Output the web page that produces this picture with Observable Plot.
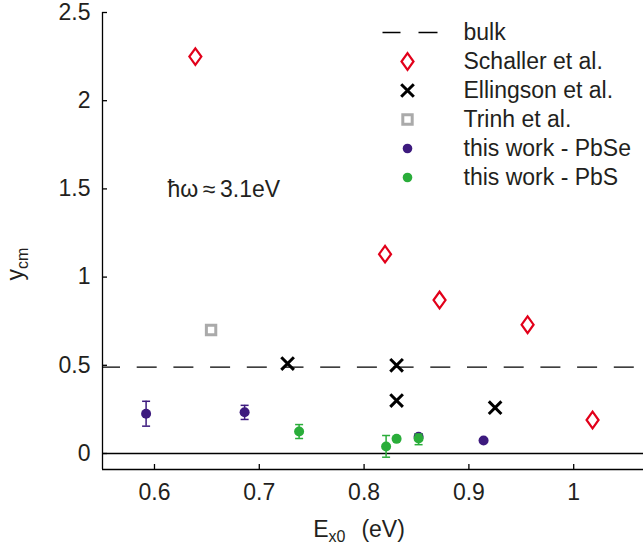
<!DOCTYPE html>
<html><head><meta charset="utf-8">
<script src="https://cdn.jsdelivr.net/npm/d3@7"></script>
<script src="https://cdn.jsdelivr.net/npm/@observablehq/plot@0.6"></script>
<style>
body{margin:0;background:#fff;}
svg{font-family:"Liberation Sans",Arial,sans-serif;}
</style>
</head><body><div id="chart"></div>
<script>
// ---- data ----
const schallerX = [0.639, 0.820, 0.872, 0.956, 1.018];
const schallerY = [2.25, 1.13, 0.87, 0.73, 0.19];
const ellingsonX = [0.727, 0.831, 0.831, 0.925];
const ellingsonY = [0.51, 0.50, 0.30, 0.26];
const trinhX = [0.654];
const trinhY = [0.70];
const pbseX = [0.592, 0.686, 0.852, 0.914];
const pbseY = [0.225, 0.234, 0.095, 0.074];
const pbseLo = [0.155, 0.193, 0.08, null];
const pbseHi = [0.296, 0.273, 0.112, null];
const pbsX = [0.738, 0.821, 0.831, 0.852];
const pbsY = [0.125, 0.04, 0.083, 0.085];
const pbsLo = [0.085, -0.021, null, 0.05];
const pbsHi = [0.164, 0.102, null, 0.11];
const bulkY = 0.49;
const xTicks = [0.6, 0.7, 0.8, 0.9, 1];
const yTicks = [0, 0.5, 1, 1.5, 2, 2.5];
const xDomain = [0.5504, 1.0666];
const yDomain = [-0.0907, 2.5];
const legendLabels = ["bulk", "Schaller et al.", "Ellingson et al.", "Trinh et al.", "this work - PbSe", "this work - PbS"];
const annotation = "ħω\u2009≈\u20093.1eV";

// ---- styles ----
const RED = "#e2001a", PURPLE = "#3d1a7e", GREEN = "#2aad3a", GRAY = "#aaaaaa", INK = "#231f20";
const FS = 23;
const fmt = d => String(d);

const toRows = (xs, ys, lo, hi) => xs.map((x, i) => ({x, y: ys[i], lo: lo ? lo[i] : null, hi: hi ? hi[i] : null}));
const schaller = toRows(schallerX, schallerY);
const ellingson = toRows(ellingsonX, ellingsonY);
const trinh = toRows(trinhX, trinhY);
const pbse = toRows(pbseX, pbseY, pbseLo, pbseHi);
const pbs = toRows(pbsX, pbsY, pbsLo, pbsHi);

const diamondSym = {draw(c) { c.moveTo(0, -8.3); c.lineTo(6, 0); c.lineTo(0, 8.3); c.lineTo(-6, 0); c.closePath(); }};
const timesSym = {draw(c) { c.moveTo(-6.3, -6.3); c.lineTo(6.3, 6.3); c.moveTo(6.3, -6.3); c.lineTo(-6.3, 6.3); }};
const squareSym = {draw(c) { c.moveTo(-4.7, -4.7); c.lineTo(4.7, -4.7); c.lineTo(4.7, 4.7); c.lineTo(-4.7, 4.7); c.closePath(); }};
const capSym = {draw(c) { c.moveTo(-4, 0); c.lineTo(4, 0); }};
const dashSym = {draw(c) { c.moveTo(-25, 0); c.lineTo(-7, 0); c.moveTo(11, 0); c.lineTo(30, 0); }};

const errorMarks = (rows, color) => {
  const e = rows.filter(d => d.lo != null);
  return [
    Plot.ruleX(e, {x: "x", y1: "lo", y2: "hi", stroke: color, strokeWidth: 1.5}),
    Plot.dot(e, {x: "x", y: "lo", symbol: capSym, stroke: color, fill: "none", strokeWidth: 1.5}),
    Plot.dot(e, {x: "x", y: "hi", symbol: capSym, stroke: color, fill: "none", strokeWidth: 1.5})
  ];
};

const legendMarkers = [
  {symbol: dashSym, stroke: "#000", fill: "none", strokeWidth: 1.3},
  {symbol: diamondSym, stroke: RED, fill: "none", strokeWidth: 2.2},
  {symbol: timesSym, stroke: "#000", fill: "none", strokeWidth: 3},
  {symbol: squareSym, stroke: GRAY, fill: "none", strokeWidth: 3},
  {symbol: "circle", r: 4.8, fill: PURPLE, stroke: "none"},
  {symbol: "circle", r: 4.8, fill: GREEN, stroke: "none"}
];
const legendMarks = legendLabels.flatMap((label, i) => [
  Plot.dot([label], {frameAnchor: "top-left", dx: 305, dy: 20 + 29 * i, ...legendMarkers[i]}),
  Plot.text([label], {frameAnchor: "top-left", dx: 361, dy: 20 + 29 * i, text: d => d, textAnchor: "start", lineAnchor: "middle", fontSize: FS, fill: INK})
]);

const plot = Plot.plot({
  width: 643, height: 547,
  marginLeft: 102, marginRight: 0, marginTop: 12, marginBottom: 78,
  x: {domain: xDomain, axis: null},
  y: {domain: yDomain, axis: null},
  style: {fontFamily: "'Liberation Sans', Arial, sans-serif", fontSize: FS + "px", color: INK, background: "white", overflow: "visible"},
  marks: [
    Plot.ruleX([xDomain[0]], {stroke: "#000", strokeWidth: 1.3}),
    Plot.ruleY([yDomain[0]], {stroke: "#000", strokeWidth: 1.3}),
    Plot.axisX(xTicks, {tickSize: -5, tickFormat: () => "", label: null, stroke: "#000", strokeWidth: 1.3}),
    Plot.axisX(xTicks, {tickSize: 0, tickPadding: 14, tickFormat: fmt, label: null, fontSize: FS, fill: INK}),
    Plot.axisY(yTicks, {tickSize: -5, tickFormat: () => "", label: null, stroke: "#000", strokeWidth: 1.3}),
    Plot.axisY(yTicks, {tickSize: 0, tickPadding: 12, tickFormat: fmt, label: null, fontSize: FS, fill: INK}),
    Plot.ruleY([0], {stroke: "#000", strokeWidth: 1.3}),
    Plot.ruleY([bulkY], {stroke: "#000", strokeWidth: 1.3, strokeDasharray: "20,16.7", strokeDashoffset: 2}),
    Plot.dot(trinh, {x: "x", y: "y", symbol: squareSym, stroke: GRAY, fill: "none", strokeWidth: 3}),
    Plot.dot(schaller, {x: "x", y: "y", symbol: diamondSym, stroke: RED, fill: "none", strokeWidth: 2.2}),
    Plot.dot(ellingson, {x: "x", y: "y", symbol: timesSym, stroke: "#000", fill: "none", strokeWidth: 3}),
    ...errorMarks(pbse, PURPLE),
    Plot.dot(pbse, {x: "x", y: "y", r: 5, fill: PURPLE, stroke: "none"}),
    ...errorMarks(pbs, GREEN),
    Plot.dot(pbs, {x: "x", y: "y", r: 5, fill: GREEN, stroke: "none"}),
    Plot.text([annotation], {frameAnchor: "top-left", dx: 65, dy: 177, text: d => d, textAnchor: "start", lineAnchor: "middle", fontSize: FS, fill: INK}),
    ...legendMarks
  ]
});

const svg = d3.select(plot);
// y label
const yl = svg.append("text").attr("transform", "translate(23,264) rotate(-90)")
  .attr("text-anchor", "middle").attr("font-size", FS).attr("fill", INK);
yl.append("tspan").text("y");
yl.append("tspan").attr("font-size", 16).attr("dy", 5).text("cm");
// x label
const xl = svg.append("text").attr("x", 359).attr("y", 537)
  .attr("text-anchor", "middle").attr("font-size", FS).attr("fill", INK);
xl.append("tspan").text("E");
xl.append("tspan").attr("font-size", 16).attr("dy", 5).text("x0");
xl.append("tspan").attr("dy", -5).attr("dx", 16).text("(eV)");

document.getElementById("chart").appendChild(plot);
</script>
</body></html>
